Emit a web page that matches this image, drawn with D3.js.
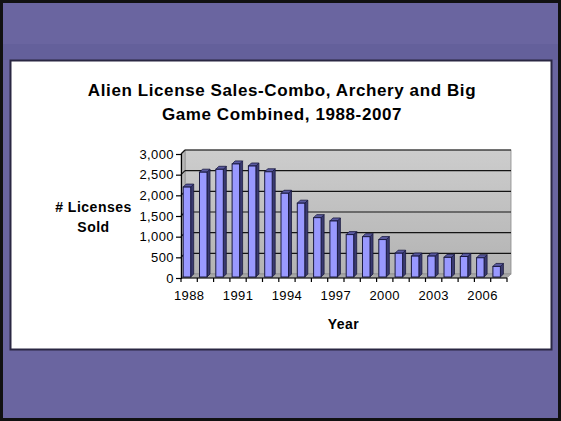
<!DOCTYPE html>
<html>
<head>
<meta charset="utf-8">
<script src="https://cdn.jsdelivr.net/npm/d3@7"></script>
<style>
  html, body { margin: 0; padding: 0; background: #000; }
  svg { display: block; }
  text { font-family: "Liberation Sans", Arial, sans-serif; fill: #000; }
</style>
</head>
<body>
<script>
// ---- data ----
const years = [1988,1989,1990,1991,1992,1993,1994,1995,1996,1997,1998,1999,2000,2001,2002,2003,2004,2005,2006,2007];
const sales = [2200,2560,2630,2760,2710,2570,2050,1810,1460,1380,1050,1000,930,600,530,530,500,520,490,280];
const yTickValues = [0,500,1000,1500,2000,2500,3000];
const xTickLabels = [1988,1991,1994,1997,2000,2003,2006];
const titleLines = ["Alien License Sales-Combo, Archery and Big", "Game Combined, 1988-2007"];
const yTitleLines = ["# Licenses", "Sold"];
const xTitle = "Year";

const W = 561, H = 421;
const svg = d3.select("body").append("svg").attr("width", W).attr("height", H);

// slide background
svg.append("rect").attr("x", 0).attr("y", 0).attr("width", W).attr("height", H).attr("fill", "#111");
svg.append("rect").attr("x", 3).attr("y", 3).attr("width", W - 6).attr("height", H - 6).attr("fill", "#6a65a0");
svg.append("rect").attr("x", 3).attr("y", 44).attr("width", W - 6).attr("height", 16).attr("fill", "#635e98").attr("opacity", 0.7);

// white panel
svg.append("rect").attr("x", 10.5).attr("y", 60.5).attr("width", 541).attr("height", 289)
  .attr("fill", "#fff").attr("stroke", "#2a2742").attr("stroke-width", 2);

// scales
const x = d3.scaleBand().domain(years).range([181, 507]).paddingInner(0).paddingOuter(0);
const y = d3.scaleLinear().domain([0, 3000]).range([278, 154]);
const dx = 4, dy = -4;

// gradient for walls
const defs = svg.append("defs");
const g1 = defs.append("linearGradient").attr("id", "wall").attr("x1", 0).attr("y1", 0).attr("x2", 0).attr("y2", 1);
g1.append("stop").attr("offset", "0%").attr("stop-color", "#cdcdcd");
g1.append("stop").attr("offset", "100%").attr("stop-color", "#b3b3b3");

const x0 = x.range()[0], x1 = x.range()[1];
const yTop = y(3000), yBot = y(0);

// back wall
svg.append("rect").attr("x", x0 + dx).attr("y", yTop + dy).attr("width", x1 - x0).attr("height", yBot - yTop)
  .attr("fill", "url(#wall)").attr("stroke", "#8a8a8a").attr("stroke-width", 0.8);
// side wall
svg.append("polygon")
  .attr("points", [[x0, yTop], [x0 + dx, yTop + dy], [x0 + dx, yBot + dy], [x0, yBot]].map(p => p.join(",")).join(" "))
  .attr("fill", "#b8b8b8").attr("stroke", "#8a8a8a").attr("stroke-width", 0.6);
// floor
svg.append("polygon")
  .attr("points", [[x0, yBot], [x1, yBot], [x1 + dx, yBot + dy], [x0 + dx, yBot + dy]].map(p => p.join(",")).join(" "))
  .attr("fill", "#a8a8a8").attr("stroke", "#8a8a8a").attr("stroke-width", 0.6);

// gridlines (back wall + side wall)
const grid = svg.append("g");
yTickValues.filter(v => v > 0).forEach(v => {
  grid.append("line").attr("x1", x0 + dx).attr("x2", x1 + dx).attr("y1", y(v) + dy).attr("y2", y(v) + dy)
    .attr("stroke", "#141414").attr("stroke-width", 1.2);
  grid.append("line").attr("x1", x0).attr("x2", x0 + dx).attr("y1", y(v)).attr("y2", y(v) + dy)
    .attr("stroke", "#141414").attr("stroke-width", 1.2);
});

// bars
const bw = x.bandwidth();
const fw = 7.5, off = 2.2, d = 3;
const bars = svg.append("g");
years.forEach((yr, i) => {
  const bx = x(yr) + off;
  const by = y(sales[i]);
  const bb = y(0) - 1;
  // side face
  bars.append("polygon")
    .attr("points", [[bx + fw, by], [bx + fw + d, by - d], [bx + fw + d, bb - d], [bx + fw, bb]].map(p => p.join(",")).join(" "))
    .attr("fill", "#3a3a70").attr("stroke", "#1a1a40").attr("stroke-width", 0.8);
  // top face
  bars.append("polygon")
    .attr("points", [[bx, by], [bx + d, by - d], [bx + fw + d, by - d], [bx + fw, by]].map(p => p.join(",")).join(" "))
    .attr("fill", "#5a5aa0").attr("stroke", "#1a1a40").attr("stroke-width", 0.8);
  // front face
  bars.append("rect").attr("x", bx).attr("y", by).attr("width", fw).attr("height", bb - by)
    .attr("fill", "#9999ff").attr("stroke", "#1a1a40").attr("stroke-width", 1);
});

// axes
const yAxis = d3.axisLeft(y).tickValues(yTickValues).tickFormat(d3.format(",")).tickSize(5).tickPadding(2);
const yg = svg.append("g").attr("transform", `translate(${x0},0)`).call(yAxis);
yg.select(".domain").attr("stroke", "#000").attr("stroke-width", 1.2);
yg.selectAll(".tick line").attr("stroke", "#000").attr("stroke-width", 1.2);
yg.selectAll(".tick text").attr("font-size", 13).attr("letter-spacing", "0.4px")
  .style("font-family", "'Liberation Sans', Arial, sans-serif").attr("fill", "#000");

const xg = svg.append("g");
xg.append("line").attr("x1", x0).attr("x2", x1).attr("y1", yBot).attr("y2", yBot).attr("stroke", "#000").attr("stroke-width", 1.2);
const boundaries = years.map(yr => x(yr)).concat([x1]);
xg.selectAll("line.tk").data(boundaries).enter().append("line").attr("class", "tk")
  .attr("x1", d => d).attr("x2", d => d).attr("y1", yBot).attr("y2", yBot + 4)
  .attr("stroke", "#000").attr("stroke-width", 1.2);
xg.selectAll("text.xl").data(xTickLabels).enter().append("text").attr("class", "xl")
  .attr("x", d => x(d) + bw / 2).attr("y", 300).attr("text-anchor", "middle")
  .attr("font-size", 13).attr("letter-spacing", "0.4px").text(d => d);

// titles
const t = svg.append("text").attr("text-anchor", "middle").attr("font-size", 17).attr("font-weight", "bold")
  .attr("letter-spacing", "0.6px");
titleLines.forEach((s, i) => t.append("tspan").attr("x", 282).attr("y", 96 + i * 24).text(s));

const yt = svg.append("text").attr("text-anchor", "middle").attr("font-size", 14).attr("font-weight", "bold")
  .attr("letter-spacing", "0.5px");
yTitleLines.forEach((s, i) => yt.append("tspan").attr("x", 93.5).attr("y", 212 + i * 20).text(s));

svg.append("text").attr("x", 343.5).attr("y", 329).attr("text-anchor", "middle")
  .attr("font-size", 14).attr("font-weight", "bold").attr("letter-spacing", "0.5px").text(xTitle);
</script>
</body>
</html>
